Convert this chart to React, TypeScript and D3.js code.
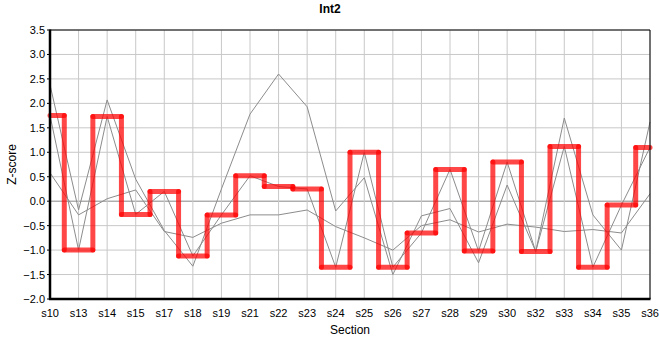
import React from 'react';
import * as d3 from 'd3';

// categories and values
const sections = ['s10', 's13', 's14', 's15', 's17', 's18', 's19', 's21', 's22', 's23', 's24',
  's25', 's26', 's27', 's28', 's29', 's30', 's32', 's33', 's34', 's35', 's36'];

const highlight = [1.75, -1.0, 1.73, -0.27, 0.2, -1.12, -0.28, 0.52, 0.3, 0.25, -1.35,
  1.0, -1.35, -0.65, 0.65, -1.02, 0.8, -1.03, 1.12, -1.35, -0.08, 1.1];

const sample1 = [2.38, -0.18, 2.07, 0.45, -0.6, -1.33, 0.25, 1.78, 2.6, 1.93, -0.2,
  0.48, -1.5, -0.3, -0.15, -1.26, 0.33, -1.03, 1.7, -0.28, -1.0, 1.62];

const sample3 = [0.58, -0.28, 0.05, 0.23, -0.62, -0.74, -0.45, -0.28, -0.28, -0.18, -0.52,
  -0.75, -1.0, -0.5, -0.38, -0.63, -0.47, -0.53, -0.62, -0.58, -0.65, 0.15];

const greySeries = [highlight, sample1, sample3];

const yTicks = [-2.0, -1.5, -1.0, -0.5, 0.0, 0.5, 1.0, 1.5, 2.0, 2.5, 3.0, 3.5];

const W = 660;
const H = 360;
const left = 50, right = 650, top = 30, bottom = 299;
const font = 'Liberation Sans, Arial, sans-serif';

export default function App() {
  const x = d3.scalePoint<string>().domain(sections).range([left, right]);
  const y = d3.scaleLinear().domain([-2, 3.5]).range([bottom, top]);

  const line = d3.line<number>()
    .x((d, i) => x(sections[i]) as number)
    .y(d => y(d));

  // step segments, drawn one by one so the joints overlap like the original
  const segs: { x1: number; y1: number; x2: number; y2: number }[] = [];
  highlight.forEach((v, i) => {
    const xi = x(sections[i]) as number;
    const xPrev = i > 0 ? (x(sections[i - 1]) as number) : xi;
    const xNext = i < sections.length - 1 ? (x(sections[i + 1]) as number) : xi;
    const x1 = i === 0 ? xi : (xPrev + xi) / 2;
    const x2 = i === sections.length - 1 ? xi : (xi + xNext) / 2;
    segs.push({ x1, y1: y(v), x2, y2: y(v) });
    if (i < sections.length - 1) {
      segs.push({ x1: x2, y1: y(v), x2: x2, y2: y(highlight[i + 1]) });
    }
  });

  return (
    <svg width={W} height={H} style={{ display: 'block', position: 'absolute', left: 0, top: 0 }}>
      <rect width={W} height={H} fill="#fff" />
      <text x={330} y={13} textAnchor="middle" fontFamily={font} fontSize={12} fontWeight="bold">Int2</text>

      {/* grid */}
      {yTicks.map(t => (
        <line key={'gy' + t} x1={left} x2={right} y1={y(t)} y2={y(t)}
          stroke={t === 0 ? '#888' : '#c8c8c8'} strokeWidth={1} />
      ))}
      {sections.map(s => (
        <line key={'gx' + s} x1={x(s)} x2={x(s)} y1={top} y2={bottom} stroke="#c8c8c8" strokeWidth={1} />
      ))}

      {/* grey samples */}
      {greySeries.map((s, i) => (
        <path key={'g' + i} d={line(s) || ''} fill="none" stroke="#8c8c8c" strokeWidth={1} />
      ))}

      {/* highlighted step line */}
      {segs.map((s, i) => (
        <line key={'r' + i} x1={s.x1} y1={s.y1} x2={s.x2} y2={s.y2}
          stroke="rgb(255,0,0)" strokeOpacity={0.72} strokeWidth={5} strokeLinecap="round" />
      ))}

      {/* frame */}
      <line x1={left} x2={right} y1={top} y2={top} stroke="#000" strokeWidth={1} />
      <line x1={right} x2={right} y1={top} y2={bottom} stroke="#000" strokeWidth={1} />
      <line x1={left} x2={left} y1={top - 0.5} y2={bottom + 1} stroke="#000" strokeWidth={2.5} />
      <line x1={left - 1} x2={right + 0.5} y1={bottom} y2={bottom} stroke="#000" strokeWidth={2.5} />

      {/* y axis */}
      {yTicks.map(t => (
        <g key={'ty' + t}>
          <line x1={left - 3} x2={left} y1={y(t)} y2={y(t)} stroke="#000" />
          <text x={left - 5} y={y(t) + 4} textAnchor="end" fontFamily={font} fontSize={11}>{d3.format('.1f')(t)}</text>
        </g>
      ))}
      {/* x axis */}
      {sections.map(s => (
        <text key={'tx' + s} x={x(s)} y={317} textAnchor="middle" fontFamily={font} fontSize={11}>{s}</text>
      ))}

      <text x={(left + right) / 2} y={334} textAnchor="middle" fontFamily={font} fontSize={12}>Section</text>
      <text transform={`translate(16,${(top + bottom) / 2}) rotate(-90)`} textAnchor="middle"
        fontFamily={font} fontSize={12}>Z-score</text>
    </svg>
  );
}
